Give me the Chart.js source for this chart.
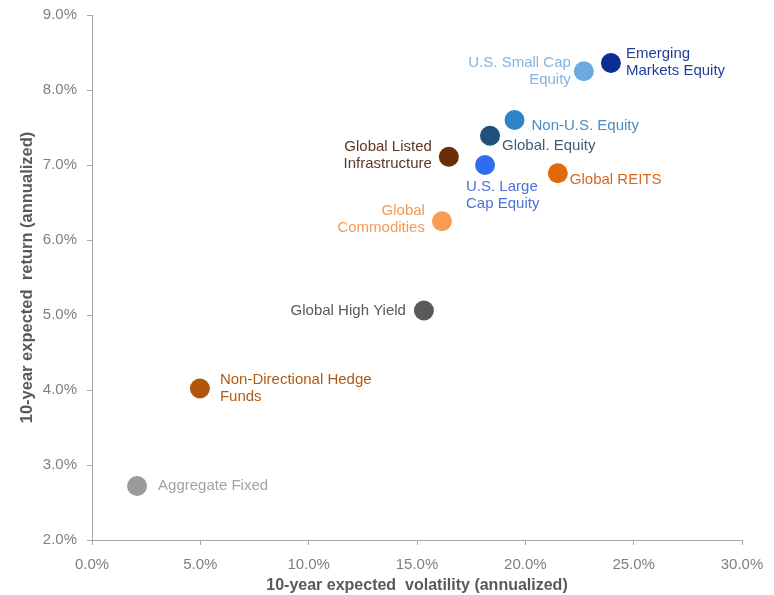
<!DOCTYPE html>
<html>
<head>
<meta charset="utf-8">
<title>Risk vs return</title>
<script src="https://cdn.jsdelivr.net/npm/chart.js@4"></script>
<style>
  body { margin: 0; background: #fff; }
  canvas { display: block; }
</style>
</head>
<body>
<canvas id="riskChart" width="774" height="595"></canvas>
<script>
// asset classes, expected volatility (%) and expected return (%)
const assets = [
    ['Aggregate Fixed'],
    ['Non-Directional Hedge', 'Funds'],
    ['Global High Yield'],
    ['Global', 'Commodities'],
    ['Global Listed', 'Infrastructure'],
    ['U.S. Large', 'Cap Equity'],
    ['Global. Equity'],
    ['Non-U.S. Equity'],
    ['Global REITS'],
    ['U.S. Small Cap', 'Equity'],
    ['Emerging', 'Markets Equity']
];
const volatility = [2.08, 4.98, 15.32, 16.15, 16.47, 18.14, 18.37, 19.5, 21.5, 22.7, 23.95];
const expReturn = [2.72, 4.02, 5.06, 6.25, 7.11, 7.0, 7.39, 7.6, 6.89, 8.25, 8.36];

const xTicks = [0, 5, 10, 15, 20, 25, 30];
const yTicks = [2, 3, 4, 5, 6, 7, 8, 9];

const dotColors = ['#9b9b9b', '#b3560a', '#5a5a5a', '#f89c55', '#6a2f08', '#2f6cf2',
    '#1f4f7d', '#2d84c6', '#e06a0a', '#6aaade', '#0a2e96'];
const textColors = ['#a3a3a3', '#b05a14', '#595959', '#f59a55', '#5e3820', '#4a72d8',
    '#3f5b7a', '#4b8ac8', '#d8681e', '#86b2e0', '#223c9c'];

// label anchor: dx, dy from the dot centre and text alignment
const labelPos = [
    [21, 0, 'left'], [20, 0, 'left'], [-18, 0, 'right'], [-17, -2, 'right'],
    [-17, -1, 'right'], [-19, 30, 'left'], [12, 10, 'left'], [17, 6, 'left'],
    [12, 7, 'left'], [-13, 0, 'right'], [15, -1, 'left']
];

const FONT = '"Liberation Sans", Arial, sans-serif';

// writes the asset name beside each dot
const pointLabels = {
    id: 'pointLabels',
    afterDatasetsDraw(chart) {
        const ctx = chart.ctx;
        const meta = chart.getDatasetMeta(0);
        ctx.save();
        ctx.font = '15px ' + FONT;
        ctx.textBaseline = 'middle';
        meta.data.forEach((pt, i) => {
            const [dx, dy, align] = labelPos[i];
            const lines = assets[i];
            const lh = 17;
            const y0 = pt.y + dy - (lines.length - 1) * lh / 2;
            ctx.fillStyle = textColors[i];
            ctx.textAlign = align;
            lines.forEach((line, j) => ctx.fillText(line, pt.x + dx, y0 + j * lh));
        });
        ctx.restore();
    }
};

const axisGrey = '#a6a6a6';
const tickFont = { family: FONT, size: 15 };

new Chart(document.getElementById('riskChart'), {
    type: 'scatter',
    data: {
        datasets: [{
            data: volatility.map((v, i) => ({ x: v, y: expReturn[i] })),
            backgroundColor: dotColors,
            borderWidth: 0,
            pointRadius: 10,
            pointHoverRadius: 10
        }]
    },
    options: {
        responsive: false,
        animation: false,
        layout: { padding: { left: 0, top: 15, right: 32, bottom: 0 } },
        plugins: { legend: { display: false }, tooltip: { enabled: false } },
        scales: {
            x: {
                min: 0, max: 30,
                afterBuildTicks: s => { s.ticks = xTicks.map(v => ({ value: v })); },
                afterFit: s => { s.height = 55; s.paddingLeft = 0; s.paddingRight = 0; },
                border: { color: axisGrey, width: 1 },
                grid: { drawOnChartArea: false, color: axisGrey, tickLength: 5 },
                ticks: {
                    color: '#7f7f7f', font: tickFont, padding: 11, maxRotation: 0,
                    callback: v => v.toFixed(1) + '%'
                },
                title: {
                    display: true, text: '10-year expected  volatility (annualized)',
                    color: '#595959', font: { family: FONT, size: 16, weight: 'bold' },
                    padding: { top: 0, bottom: 0 }
                }
            },
            y: {
                min: 2, max: 9,
                afterBuildTicks: s => { s.ticks = yTicks.map(v => ({ value: v })); },
                afterFit: s => { s.width = 92; s.paddingTop = 0; s.paddingBottom = 0; },
                border: { color: axisGrey, width: 1 },
                grid: { drawOnChartArea: false, color: axisGrey, tickLength: 5 },
                ticks: {
                    color: '#7f7f7f', font: tickFont, padding: 10,
                    callback: v => v.toFixed(1) + '%'
                },
                title: {
                    display: true, text: '10-year expected  return (annualized)',
                    color: '#595959', font: { family: FONT, size: 16.5, weight: 'bold' },
                    padding: { top: 18, bottom: 0 }
                }
            }
        }
    },
    plugins: [pointLabels]
});
</script>
</body>
</html>
